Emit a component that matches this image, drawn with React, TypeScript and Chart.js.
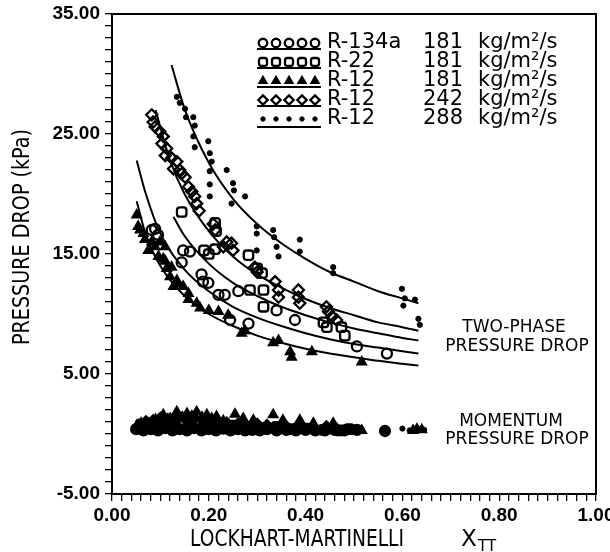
import React, { useEffect, useRef } from 'react';
import { Chart, registerables } from 'chart.js';
import { drawPoint } from 'chart.js/helpers';

Chart.register(...registerables);

// ---------- labels ----------
const seriesNames = ['R-134a', 'R-22', 'R-12', 'R-12', 'R-12'];
const massFluxes = ['181', '181', '181', '242', '288'];
const fluxUnit = 'kg/m²/s';
const yLabelValues = [-5, 5, 15, 25, 35];
const xLabelValues = [0, 0.2, 0.4, 0.6, 0.8, 1.0];
const yTitle = 'PRESSURE DROP (kPa)';
const xTitle = 'LOCKHART-MARTINELLI';
const xTitleSymbol = 'X';
const xTitleSub = 'TT';
const twoPhaseNote = ['TWO-PHASE', 'PRESSURE DROP'];
const momentumNote = ['MOMENTUM', 'PRESSURE DROP'];

// ---------- two-phase pressure drop data ----------
const tpR134a: [number, number][] = [
  [0.082, 17.0], [0.089, 17.1], [0.095, 16.6], [0.147, 15.3], [0.161, 15.2], [0.144, 14.3],
  [0.185, 13.3], [0.188, 12.7], [0.199, 12.6], [0.22, 11.6], [0.233, 11.6], [0.261, 11.9],
  [0.244, 9.5], [0.282, 9.2], [0.34, 10.3], [0.378, 9.5], [0.506, 7.3], [0.568, 6.7],
];
const tpR22: [number, number][] = [
  [0.144, 18.5], [0.19, 15.3], [0.2, 15.0], [0.213, 17.6], [0.215, 16.9], [0.213, 15.4],
  [0.282, 14.9], [0.3, 13.8], [0.31, 13.4], [0.285, 12.0], [0.313, 12.0], [0.313, 10.6],
  [0.437, 9.3], [0.444, 8.9], [0.474, 8.9], [0.481, 8.2],
];
const tpR12g181: [number, number][] = [
  [0.051, 18.25], [0.054, 17.3], [0.058, 17.0], [0.065, 16.7], [0.068, 16.2], [0.075, 15.3],
  [0.082, 16.0], [0.089, 15.6], [0.099, 16.0], [0.11, 15.6], [0.096, 14.8], [0.106, 14.6],
  [0.11, 14.4], [0.113, 13.8], [0.123, 13.9], [0.12, 13.1], [0.134, 12.8], [0.134, 12.5],
  [0.127, 12.3], [0.147, 12.3], [0.158, 11.7], [0.158, 11.2], [0.175, 10.9], [0.182, 10.5],
  [0.2, 10.3], [0.22, 10.2], [0.24, 9.9], [0.268, 8.4], [0.275, 8.6], [0.333, 7.6],
  [0.344, 7.8], [0.368, 6.85], [0.371, 6.4], [0.413, 6.85], [0.516, 6.0],
];
const tpR12g242: [number, number][] = [
  [0.082, 26.6], [0.085, 26.0], [0.089, 25.6], [0.099, 25.2], [0.106, 24.8], [0.103, 24.2],
  [0.113, 23.8], [0.11, 23.2], [0.123, 23.0], [0.134, 22.7], [0.127, 22.1], [0.14, 22.0],
  [0.151, 21.4], [0.144, 21.7], [0.158, 20.6], [0.165, 20.2], [0.171, 19.8], [0.175, 19.2],
  [0.18, 18.6], [0.209, 17.5], [0.213, 17.0], [0.237, 16.0], [0.247, 15.9], [0.23, 15.6],
  [0.25, 15.3], [0.295, 13.9], [0.3, 13.5], [0.337, 12.7], [0.344, 11.4], [0.344, 12.0],
  [0.385, 12.0], [0.385, 11.4], [0.388, 10.9], [0.443, 10.6], [0.447, 10.2], [0.455, 9.8],
  [0.464, 9.5],
];
const tpR12g288: [number, number][] = [
  [0.134, 28.1], [0.14, 27.6], [0.151, 27.1], [0.153, 26.4], [0.168, 26.4], [0.171, 25.7],
  [0.168, 24.8], [0.171, 23.9], [0.199, 24.4], [0.202, 23.4], [0.206, 22.7], [0.202, 21.9],
  [0.202, 20.8], [0.202, 19.8], [0.237, 22.0], [0.25, 20.9], [0.252, 20.3], [0.247, 19.2],
  [0.275, 19.8], [0.299, 17.3], [0.299, 16.7], [0.299, 15.3], [0.333, 17.0], [0.335, 16.4],
  [0.34, 15.6], [0.344, 14.8], [0.388, 16.2], [0.388, 15.2], [0.457, 13.9], [0.457, 13.4],
  [0.599, 12.1], [0.605, 11.3], [0.626, 11.2], [0.602, 10.7], [0.633, 9.6], [0.636, 9.1],
];

// ---------- momentum pressure drop data ----------
const momR134a: [number, number][] = [
  [0.05, 0.4], [0.065, 0.3], [0.08, 0.4], [0.095, 0.3], [0.11, 0.5], [0.125, 0.3], [0.14, 0.4],
  [0.155, 0.3], [0.17, 0.5], [0.185, 0.3], [0.2, 0.4], [0.215, 0.3], [0.23, 0.45], [0.245, 0.3],
  [0.26, 0.4], [0.275, 0.3], [0.29, 0.35], [0.305, 0.3], [0.32, 0.4], [0.34, 0.3], [0.36, 0.35],
  [0.38, 0.3], [0.4, 0.35], [0.42, 0.3], [0.44, 0.3], [0.46, 0.35], [0.48, 0.3], [0.506, 0.35],
  [0.564, 0.25],
];
const momR22: [number, number][] = [
  [0.06, 0.8], [0.1, 0.9], [0.13, 0.9], [0.16, 1.0], [0.19, 0.9], [0.22, 0.8], [0.25, 0.7],
  [0.28, 0.6], [0.31, 0.5], [0.34, 0.6], [0.37, 0.4], [0.4, 0.45], [0.437, 0.35], [0.47, 0.3],
  [0.49, 0.4],
];
const momR12g181: [number, number][] = [
  [0.05, 0.6], [0.06, 0.9], [0.075, 0.9], [0.09, 1.2], [0.106, 1.6], [0.12, 1.3], [0.134, 1.85],
  [0.145, 1.4], [0.155, 1.7], [0.165, 1.5], [0.175, 1.85], [0.186, 1.4], [0.196, 1.6], [0.206, 1.3],
  [0.216, 1.45], [0.23, 1.1], [0.254, 1.65], [0.271, 1.3], [0.292, 1.15], [0.333, 1.6], [0.353, 1.15],
  [0.388, 1.15], [0.416, 0.9], [0.457, 0.9], [0.516, 0.3], [0.622, 0.3], [0.63, 0.4], [0.64, 0.35],
];
const momR12g242: [number, number][] = [
  [0.07, 1.0], [0.085, 1.1], [0.1, 1.3], [0.115, 1.2], [0.13, 1.4], [0.15, 1.3], [0.17, 1.3],
  [0.19, 1.1], [0.21, 1.1], [0.237, 0.9], [0.26, 0.8], [0.3, 0.8], [0.32, 0.7], [0.36, 0.6],
  [0.385, 0.7], [0.443, 0.6], [0.464, 0.4],
];
const momR12g288: [number, number][] = [
  [0.134, 0.9], [0.17, 1.2], [0.2, 0.6], [0.237, 1.0], [0.27, 0.5], [0.3, 0.9], [0.34, 0.4],
  [0.388, 0.9], [0.457, 0.9], [0.48, 0.4], [0.6, 0.45], [0.615, 0.3], [0.63, 0.5], [0.645, 0.35],
];

// ---------- fitted curves ----------
const fitR134a: [number, number][] = [
  [0.051, 22.8], [0.07, 20.0], [0.1, 16.7], [0.15, 13.7], [0.2, 11.9], [0.25, 10.6], [0.3, 9.7],
  [0.35, 9.0], [0.4, 8.4], [0.45, 7.9], [0.5, 7.5], [0.55, 7.2], [0.6, 6.9], [0.633, 6.7],
];
const fitR22: [number, number][] = [
  [0.127, 18.1], [0.15, 16.5], [0.2, 14.2], [0.25, 12.6], [0.3, 11.5], [0.35, 10.6], [0.4, 9.9],
  [0.45, 9.3], [0.5, 8.8], [0.55, 8.4], [0.6, 8.0], [0.633, 7.8],
];
const fitR12g181: [number, number][] = [
  [0.051, 19.4], [0.07, 16.6], [0.1, 14.0], [0.15, 11.5], [0.2, 10.0], [0.25, 9.0], [0.3, 8.2],
  [0.35, 7.6], [0.4, 7.1], [0.45, 6.7], [0.5, 6.4], [0.55, 6.1], [0.6, 5.85], [0.633, 5.7],
];
const fitR12g242: [number, number][] = [
  [0.09, 27.0], [0.12, 22.8], [0.15, 20.0], [0.2, 16.9], [0.25, 14.8], [0.3, 13.3], [0.35, 12.2],
  [0.4, 11.25], [0.45, 10.5], [0.5, 9.9], [0.55, 9.3], [0.6, 8.9], [0.633, 8.6],
];
const fitR12g288: [number, number][] = [
  [0.123, 30.75], [0.15, 27.1], [0.2, 22.6], [0.25, 19.6], [0.3, 17.5], [0.35, 15.9], [0.4, 14.6],
  [0.45, 13.5], [0.5, 12.7], [0.55, 11.9], [0.6, 11.3], [0.633, 10.9],
];

const tpData = [tpR134a, tpR22, tpR12g181, tpR12g242, tpR12g288];
const momData = [momR134a, momR22, momR12g181, momR12g242, momR12g288];
const fitData = [fitR134a, fitR22, fitR12g181, fitR12g242, fitR12g288];

// ---------- styling ----------
const INK = '#000';
const OPEN = 'rgba(0,0,0,0)';
const markerStyles = [
  { pointStyle: 'circle', radius: 5, fill: OPEN, border: 2.3 },
  { pointStyle: 'rectRounded', radius: 5.5, fill: OPEN, border: 2.3 },
  { pointStyle: 'triangle', radius: 5.5, fill: INK, border: 1.5 },
  { pointStyle: 'rectRot', radius: 5.5, fill: OPEN, border: 2.3 },
  { pointStyle: 'circle', radius: 2.6, fill: INK, border: 1 },
];
const SANS = '"DejaVu Sans", "Liberation Sans", Arial, sans-serif';
const TICKFONT = '"Liberation Sans", Arial, sans-serif';

const toXY = (arr: [number, number][]) => arr.map(([x, y]) => ({ x, y }));

const decorPlugin = {
  id: 'decor',
  afterDraw(chart: any) {
    const { ctx, chartArea } = chart;
    ctx.save();
    ctx.strokeStyle = INK;
    ctx.lineWidth = 2;
    ctx.strokeRect(chartArea.left, chartArea.top, chartArea.right - chartArea.left, chartArea.bottom - chartArea.top);

    // legend
    const rowY = [43, 62, 81, 100, 119];
    const markX = [263, 276, 289, 302, 315];
    for (let i = 0; i < seriesNames.length; i++) {
      const y = rowY[i];
      const st = markerStyles[i];
      ctx.strokeStyle = INK;
      ctx.lineWidth = 2;
      ctx.beginPath();
      ctx.moveTo(257, y + (i === 4 ? 8 : 6));
      ctx.lineTo(321, y + (i === 4 ? 8 : 6));
      ctx.stroke();
      for (const mx of markX) {
        ctx.fillStyle = st.fill;
        ctx.strokeStyle = INK;
        ctx.lineWidth = st.border;
        drawPoint(ctx, { pointStyle: st.pointStyle, radius: st.radius * 0.85, rotation: 0, borderWidth: st.border }, mx, y);
      }
      ctx.fillStyle = INK;
      ctx.font = `21px ${SANS}`;
      ctx.textBaseline = 'middle';
      ctx.textAlign = 'left';
      ctx.fillText(seriesNames[i], 327, y);
      ctx.textAlign = 'right';
      ctx.fillText(massFluxes[i], 463, y);
      ctx.textAlign = 'left';
      ctx.fillText(fluxUnit, 478, y);
    }

    // annotations
    ctx.fillStyle = INK;
    ctx.font = `17px ${SANS}`;
    ctx.textAlign = 'center';
    ctx.textBaseline = 'middle';
    ctx.fillText(twoPhaseNote[0], 514, 328);
    ctx.fillText(twoPhaseNote[1], 517, 347);
    ctx.fillText(momentumNote[0], 511, 422);
    ctx.fillText(momentumNote[1], 517, 440);

    // axis titles
    ctx.font = `23px ${SANS}`;
    ctx.textAlign = 'center';
    ctx.textBaseline = 'middle';
    ctx.fillText(xTitle, 297, 540, 214);
    ctx.textAlign = 'left';
    ctx.fillText(xTitleSymbol, 461, 540);
    ctx.font = `15px ${SANS}`;
    ctx.fillText(xTitleSub, 478, 547, 24);

    ctx.save();
    ctx.translate(23, 237);
    ctx.rotate(-Math.PI / 2);
    ctx.font = `23px ${SANS}`;
    ctx.textAlign = 'center';
    ctx.textBaseline = 'middle';
    ctx.fillText(yTitle, 0, 0, 216);
    ctx.restore();

    ctx.restore();
  },
};

export default function App() {
  const canvasRef = useRef<HTMLCanvasElement | null>(null);

  useEffect(() => {
    if (!canvasRef.current) return;
    const datasets: any[] = [];
    for (let i = 0; i < seriesNames.length; i++) {
      const st = markerStyles[i];
      datasets.push({
        type: 'scatter',
        label: `${seriesNames[i]} ${massFluxes[i]}`,
        data: toXY(tpData[i]),
        pointStyle: st.pointStyle,
        pointRadius: st.radius,
        pointBackgroundColor: st.fill,
        pointBorderColor: INK,
        pointBorderWidth: st.border,
        showLine: false,
      });
      datasets.push({
        type: 'scatter',
        label: `${seriesNames[i]} ${massFluxes[i]} momentum`,
        data: toXY(momData[i]),
        pointStyle: st.pointStyle,
        pointRadius: st.radius,
        pointBackgroundColor: INK,
        pointBorderColor: INK,
        pointBorderWidth: st.border,
        showLine: false,
      });
    }
    for (let i = 0; i < seriesNames.length; i++) {
      datasets.push({
        type: 'line',
        label: `fit ${i}`,
        data: toXY(fitData[i]),
        borderColor: INK,
        borderWidth: 2,
        pointRadius: 0,
        fill: false,
        cubicInterpolationMode: 'monotone',
      });
    }

    const chart = new Chart(canvasRef.current, {
      type: 'scatter',
      data: { datasets },
      plugins: [decorPlugin],
      options: {
        animation: false,
        responsive: true,
        maintainAspectRatio: false,
        layout: { padding: { left: 0, top: 14, right: 14, bottom: 0 } },
        plugins: { legend: { display: false }, tooltip: { enabled: false } },
        scales: {
          x: {
            type: 'linear',
            min: 0,
            max: 1,
            grid: { display: true, drawOnChartArea: false, drawTicks: true, tickLength: 7, color: INK, lineWidth: 1.3 },
            border: { display: true, color: INK, width: 2 },
            ticks: {
              stepSize: 0.02,
              autoSkip: false,
              maxRotation: 0,
              padding: 3,
              color: INK,
              font: { family: TICKFONT, size: 19, weight: 'bold' },
              callback: (v: any) => {
                const r = Math.round(Number(v) * 100);
                return xLabelValues.some((t) => Math.round(t * 100) === r) ? (r / 100).toFixed(2) : '';
              },
            },
            afterFit: (scale: any) => {
              scale.height = 58;
              scale.paddingLeft = 0;
              scale.paddingRight = 0;
            },
          },
          y: {
            type: 'linear',
            min: -5,
            max: 35,
            grid: { display: true, drawOnChartArea: false, drawTicks: true, tickLength: 7, color: INK, lineWidth: 1.3 },
            border: { display: true, color: INK, width: 2 },
            ticks: {
              stepSize: 1,
              autoSkip: false,
              padding: 5,
              color: INK,
              font: { family: TICKFONT, size: 19, weight: 'bold' },
              callback: (v: any) => {
                const n = Math.round(Number(v));
                return yLabelValues.includes(n) ? n.toFixed(2) : '';
              },
            },
            afterFit: (scale: any) => {
              scale.width = 112;
              scale.paddingTop = 0;
              scale.paddingBottom = 0;
            },
          },
        },
      } as any,
    });
    return () => chart.destroy();
  }, []);

  return (
    <div style={{ position: 'fixed', left: 0, top: 0, width: 610, height: 552, background: '#fff' }}>
      <canvas ref={canvasRef} />
    </div>
  );
}
